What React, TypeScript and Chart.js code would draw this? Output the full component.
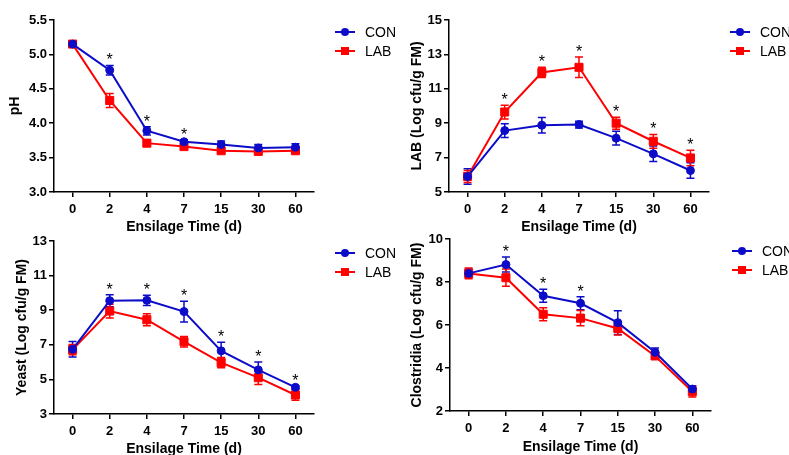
import React, { useEffect, useRef } from "react";
import { Chart, registerables } from "chart.js";

Chart.register(...registerables);

// ---------- data ----------
const categories = ["0", "2", "4", "7", "15", "30", "60"];
const seriesNames = ["CON", "LAB"];
const xTitle = "Ensilage Time (d)";

const phCon = [5.15, 4.77, 3.89, 3.73, 3.69, 3.64, 3.65];
const phConErr = [0.03, 0.07, 0.06, 0.03, 0.05, 0.05, 0.05];
const phLab = [5.15, 4.33, 3.71, 3.66, 3.6, 3.59, 3.6];
const phLabErr = [0.03, 0.1, 0.04, 0.04, 0.03, 0.03, 0.03];
const phSig = [1, 2, 3];

const labCon = [5.9, 8.57, 8.88, 8.92, 8.13, 7.22, 6.25];
const labConErr = [0.45, 0.4, 0.45, 0.2, 0.4, 0.45, 0.45];
const labLab = [5.9, 9.65, 11.95, 12.25, 9.0, 7.95, 6.98];
const labLabErr = [0.35, 0.4, 0.3, 0.6, 0.35, 0.4, 0.45];
const labSig = [1, 2, 3, 4, 5, 6];

const yeastCon = [6.74, 9.55, 9.57, 8.92, 6.65, 5.55, 4.54];
const yeastConErr = [0.45, 0.35, 0.3, 0.6, 0.5, 0.45, 0.1];
const yeastLab = [6.72, 8.95, 8.45, 7.18, 5.97, 5.1, 4.1];
const yeastLabErr = [0.3, 0.4, 0.35, 0.3, 0.3, 0.4, 0.3];
const yeastSig = [1, 2, 3, 4, 5, 6];

const closCon = [8.4, 8.81, 7.36, 7.01, 6.11, 4.73, 3.02];
const closConErr = [0.2, 0.35, 0.3, 0.3, 0.55, 0.2, 0.15];
const closLab = [8.4, 8.2, 6.5, 6.32, 5.84, 4.56, 2.9];
const closLabErr = [0.25, 0.4, 0.3, 0.35, 0.3, 0.15, 0.25];
const closSig = [1, 2, 3];

// ---------- styles ----------
const BLUE = "#0c0cc8";
const RED = "#ff0000";
const FONT = "'Liberation Sans', Arial, Helvetica, sans-serif";
const CH = 240;

type PanelProps = {
  left: number;
  top: number;
  cw: number;
  plotLeft: number;
  plotRight: number;
  plotBottom: number;
  yTitle: string;
  yMin: number;
  yMax: number;
  yStep: number;
  decimals: number;
  con: number[];
  conErr: number[];
  lab: number[];
  labErr: number[];
  sig: number[];
  yTitlePad: number;
  xTitlePad: number;
};

function Panel(p: PanelProps) {
  const ref = useRef<HTMLCanvasElement>(null);
  useEffect(() => {
    if (!ref.current) return;
    const errs = [p.conErr, p.labErr];

    const errorBars = {
      id: "errorBars",
      beforeDatasetsDraw(chart: any) {
        const ctx = chart.ctx;
        const y = chart.scales.y;
        chart.data.datasets.forEach((ds: any, di: number) => {
          const meta = chart.getDatasetMeta(di);
          ctx.save();
          ctx.strokeStyle = ds.borderColor;
          ctx.lineWidth = 1.5;
          meta.data.forEach((pt: any, i: number) => {
            const v = ds.data[i];
            const e = errs[di][i];
            const yt = y.getPixelForValue(v + e);
            const yb = y.getPixelForValue(v - e);
            ctx.beginPath();
            ctx.moveTo(pt.x, yt);
            ctx.lineTo(pt.x, yb);
            ctx.moveTo(pt.x - 4, yt);
            ctx.lineTo(pt.x + 4, yt);
            ctx.moveTo(pt.x - 4, yb);
            ctx.lineTo(pt.x + 4, yb);
            ctx.stroke();
          });
          ctx.restore();
        });
      },
    };

    const stars = {
      id: "stars",
      afterDatasetsDraw(chart: any) {
        const ctx = chart.ctx;
        const y = chart.scales.y;
        const x = chart.scales.x;
        ctx.save();
        ctx.fillStyle = "#000";
        ctx.font = `16px ${FONT}`;
        ctx.textAlign = "center";
        ctx.textBaseline = "alphabetic";
        p.sig.forEach((i) => {
          const top = Math.max(p.con[i] + p.conErr[i], p.lab[i] + p.labErr[i]);
          const py = y.getPixelForValue(top);
          ctx.fillText("*", x.getPixelForValue(i), py);
        });
        ctx.restore();
      },
    };

    const legend = {
      id: "customLegend",
      afterDraw(chart: any) {
        const ctx = chart.ctx;
        const lx = chart.chartArea.right + 21;
        const rows = [
          { name: seriesNames[0], color: BLUE, shape: "circle", y: 32 },
          { name: seriesNames[1], color: RED, shape: "rect", y: 51 },
        ];
        ctx.save();
        rows.forEach((r) => {
          ctx.strokeStyle = r.color;
          ctx.fillStyle = r.color;
          ctx.lineWidth = 2;
          ctx.beginPath();
          ctx.moveTo(lx, r.y);
          ctx.lineTo(lx + 20, r.y);
          ctx.stroke();
          if (r.shape === "circle") {
            ctx.beginPath();
            ctx.arc(lx + 10, r.y, 4, 0, Math.PI * 2);
            ctx.fill();
          } else {
            ctx.fillRect(lx + 6, r.y - 4, 8, 8);
          }
          ctx.fillStyle = "#000";
          ctx.font = `14px ${FONT}`;
          ctx.textAlign = "left";
          ctx.textBaseline = "middle";
          ctx.fillText(r.name, lx + 30, r.y + 1);
        });
        ctx.restore();
      },
    };

    const tickFont = { family: FONT, size: 13, weight: "bold" as const };
    const titleFont = { family: FONT, size: 14, weight: "bold" as const };

    const chart = new Chart(ref.current, {
      type: "line",
      data: {
        labels: categories,
        datasets: [
          {
            label: seriesNames[0],
            data: p.con,
            borderColor: BLUE,
            backgroundColor: BLUE,
            borderWidth: 2,
            pointStyle: "circle",
            pointRadius: 4,
            pointBorderWidth: 1,
            tension: 0,
          },
          {
            label: seriesNames[1],
            data: p.lab,
            borderColor: RED,
            backgroundColor: RED,
            borderWidth: 2,
            pointStyle: "rect",
            pointRadius: 5.7,
            pointBorderWidth: 1,
            tension: 0,
          },
        ],
      },
      options: {
        responsive: false,
        animation: false,
        layout: { padding: { left: 0, top: 20, right: p.cw - p.plotRight, bottom: 0 } },
        plugins: { legend: { display: false }, tooltip: { enabled: false } },
        scales: {
          x: {
            type: "category",
            offset: true,
            grid: {
              display: true,
              drawOnChartArea: false,
              drawTicks: true,
              tickLength: 5,
              color: "#000",
              lineWidth: 1.5,
              offset: false,
            },
            border: { display: true, color: "#000", width: 1.5 },
            ticks: { color: "#000", font: tickFont, padding: 5, maxRotation: 0, autoSkip: false },
            title: {
              display: true,
              text: xTitle,
              color: "#000",
              font: titleFont,
              padding: { top: 0, bottom: p.xTitlePad },
            },
            afterFit: (s: any) => {
              s.height = CH - p.plotBottom;
            },
          },
          y: {
            min: p.yMin,
            max: p.yMax,
            grid: {
              display: true,
              drawOnChartArea: false,
              drawTicks: true,
              tickLength: 5,
              color: "#000",
              lineWidth: 1.5,
            },
            border: { display: true, color: "#000", width: 1.5 },
            ticks: {
              stepSize: p.yStep,
              color: "#000",
              font: tickFont,
              padding: 2,
              callback: (v: any) => Number(v).toFixed(p.decimals),
            },
            title: {
              display: true,
              text: p.yTitle,
              color: "#000",
              font: titleFont,
              padding: { top: p.yTitlePad, bottom: 0 },
            },
            afterFit: (s: any) => {
              s.width = p.plotLeft;
            },
          },
        },
      },
      plugins: [errorBars, stars, legend],
    });
    return () => chart.destroy();
  }, []);

  return (
    <canvas
      ref={ref}
      width={p.cw}
      height={CH}
      style={{ position: "absolute", left: p.left, top: p.top, width: p.cw, height: CH }}
    />
  );
}

export default function App() {
  return (
    <div
      style={{
        position: "absolute",
        left: 0,
        top: 0,
        width: 789,
        height: 455,
        background: "#fff",
        overflow: "hidden",
      }}
    >
      <Panel
        left={0}
        top={0}
        cw={405}
        plotLeft={54}
        plotRight={314}
        plotBottom={192}
        yTitle="pH"
        yMin={3}
        yMax={5.5}
        yStep={0.5}
        decimals={1}
        con={phCon}
        conErr={phConErr}
        lab={phLab}
        labErr={phLabErr}
        sig={phSig}
        yTitlePad={6.5}
        xTitlePad={4.6}
      />
      <Panel
        left={395}
        top={0}
        cw={394}
        plotLeft={54}
        plotRight={314}
        plotBottom={192}
        yTitle="LAB (Log cfu/g FM)"
        yMin={5}
        yMax={15}
        yStep={2}
        decimals={0}
        con={labCon}
        conErr={labConErr}
        lab={labLab}
        labErr={labLabErr}
        sig={labSig}
        yTitlePad={13.5}
        xTitlePad={4.6}
      />
      <Panel
        left={0}
        top={221}
        cw={405}
        plotLeft={54}
        plotRight={314}
        plotBottom={193}
        yTitle="Yeast (Log cfu/g FM)"
        yMin={3}
        yMax={13}
        yStep={2}
        decimals={0}
        con={yeastCon}
        conErr={yeastConErr}
        lab={yeastLab}
        labErr={yeastLabErr}
        sig={yeastSig}
        yTitlePad={13.5}
        xTitlePad={3}
      />
      <Panel
        left={395}
        top={219}
        cw={394}
        plotLeft={55}
        plotRight={316}
        plotBottom={192}
        yTitle="Clostridia (Log cfu/g FM)"
        yMin={2}
        yMax={10}
        yStep={2}
        decimals={0}
        con={closCon}
        conErr={closConErr}
        lab={closLab}
        labErr={closLabErr}
        sig={closSig}
        yTitlePad={13.5}
        xTitlePad={3}
      />
    </div>
  );
}
